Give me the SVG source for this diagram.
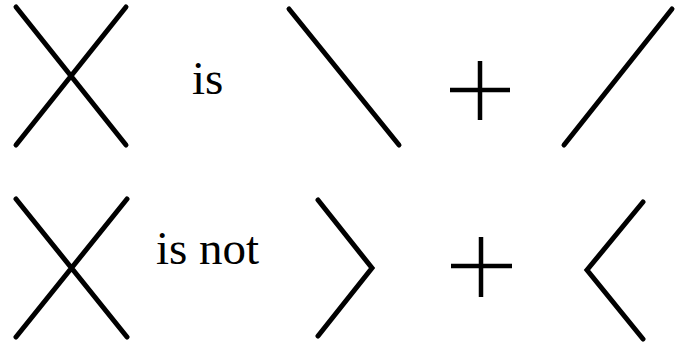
<svg xmlns="http://www.w3.org/2000/svg" width="677" height="342" viewBox="0 0 677 342">
<style>
.s{fill:none;stroke:#000;stroke-width:5;stroke-linecap:round;stroke-linejoin:miter}
.p{fill:none;stroke:#000;stroke-width:4.5;stroke-linecap:butt}
.t{font-family:"Liberation Serif","Times New Roman",serif;font-size:47px;fill:#000}
</style>
<rect width="677" height="342" fill="#fff"/>
<g id="row1">
<g id="cross1"><path class="s" d="M16,7 L126,145 M126,7 L16,145"/></g>
<g id="is"><text class="t" x="192" y="94">is</text></g>
<g id="backslash"><path class="s" d="M289,9 L399,145"/></g>
<g id="plus1"><path class="p" d="M450,90 L510,90 M480,61 L480,120"/></g>
<g id="slash"><path class="s" d="M564,145 L672,9"/></g>
</g>
<g id="row2">
<g id="cross2"><path class="s" d="M16,199 L127,337 M127,199 L16,337"/></g>
<g id="isnot"><text class="t" x="156" y="264">is not</text></g>
<g id="gt"><path class="s" d="M318,200 L372,268 L318,336"/></g>
<g id="plus2"><path class="p" d="M451,266 L512,266 M481,237 L481,297"/></g>
<g id="lt"><path class="s" d="M643,202 L587,270 L643,339"/></g>
</g>
</svg>
